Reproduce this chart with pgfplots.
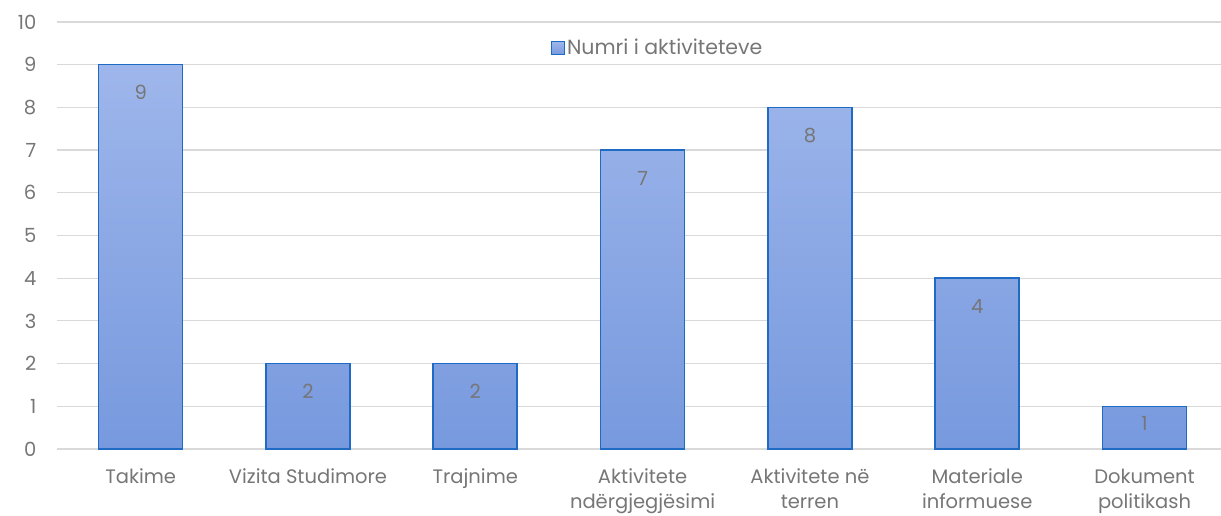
\documentclass[border=0pt]{standalone}
\usepackage{pgfplots}
\pgfplotsset{compat=1.18}
\usepackage{fontspec}
\setmainfont{Poppins}
\definecolor{txt}{HTML}{767676}
\definecolor{gridc}{HTML}{D9D9D9}
\definecolor{bartop}{HTML}{9EB6EB}
\definecolor{barbot}{HTML}{7799DE}
\definecolor{barline}{HTML}{1F6BC4}
\begin{document}
\fontsize{19.5bp}{24bp}\selectfont
\begin{tikzpicture}
\begin{axis}[
  scale only axis,
  width=1164bp, height=427bp,
  xmin=-0.5, xmax=6.457,
  ymin=0, ymax=10,
  ytick={0,...,10},
  xtick={0,...,6},
  xticklabels={Takime, Vizita Studimore, Trajnime, Aktivitete\\ndërgjegjësimi, Aktivitete në\\terren, Materiale\\informuese, Dokument\\politikash},
  xticklabel style={align=center, text=txt, font=\fontsize{19.5bp}{25bp}\selectfont, yshift=-13bp},
  yticklabel style={text=txt, font=\fontsize{19.5bp}{24bp}\selectfont, xshift=-14bp},
  /pgf/number format/assume math mode=true,
  major tick length=0pt,
  axis line style={draw=none},
  xmajorgrids=false,
  ymajorgrids=true, grid style={draw=gridc, line width=1.2bp},
  ybar, bar width=84bp,
  visualization depends on={rawy \as \rawy},
  nodes near coords,
  nodes near coords style={text=txt, font=\fontsize{19.5bp}{24bp}\selectfont, anchor=center, yshift={-min(28,21.35*\rawy-4)}},
  legend style={draw=none, fill=none, at={(0.516,0.939)}, anchor=center, font=\fontsize{20.5bp}{24bp}\selectfont, text=txt},
  legend image code/.code={\draw[fill=bartop!70!barbot, draw=barline, line width=1.2bp] (0bp,-6.5bp) rectangle (13bp,6.5bp);},
  legend cell align=left,
  clip=false,
]
\addplot[draw=barline, line width=1.6bp, top color=bartop, bottom color=barbot] coordinates {(0,9) (1,2) (2,2) (3,7) (4,8) (5,4) (6,1)};
\addlegendentry{Numri i aktiviteteve}
\end{axis}
\pgfresetboundingbox
\path[use as bounding box] (current axis.south west) ++(-57bp,-67bp) rectangle ++(1221bp,516bp);
\end{tikzpicture}
\end{document}
